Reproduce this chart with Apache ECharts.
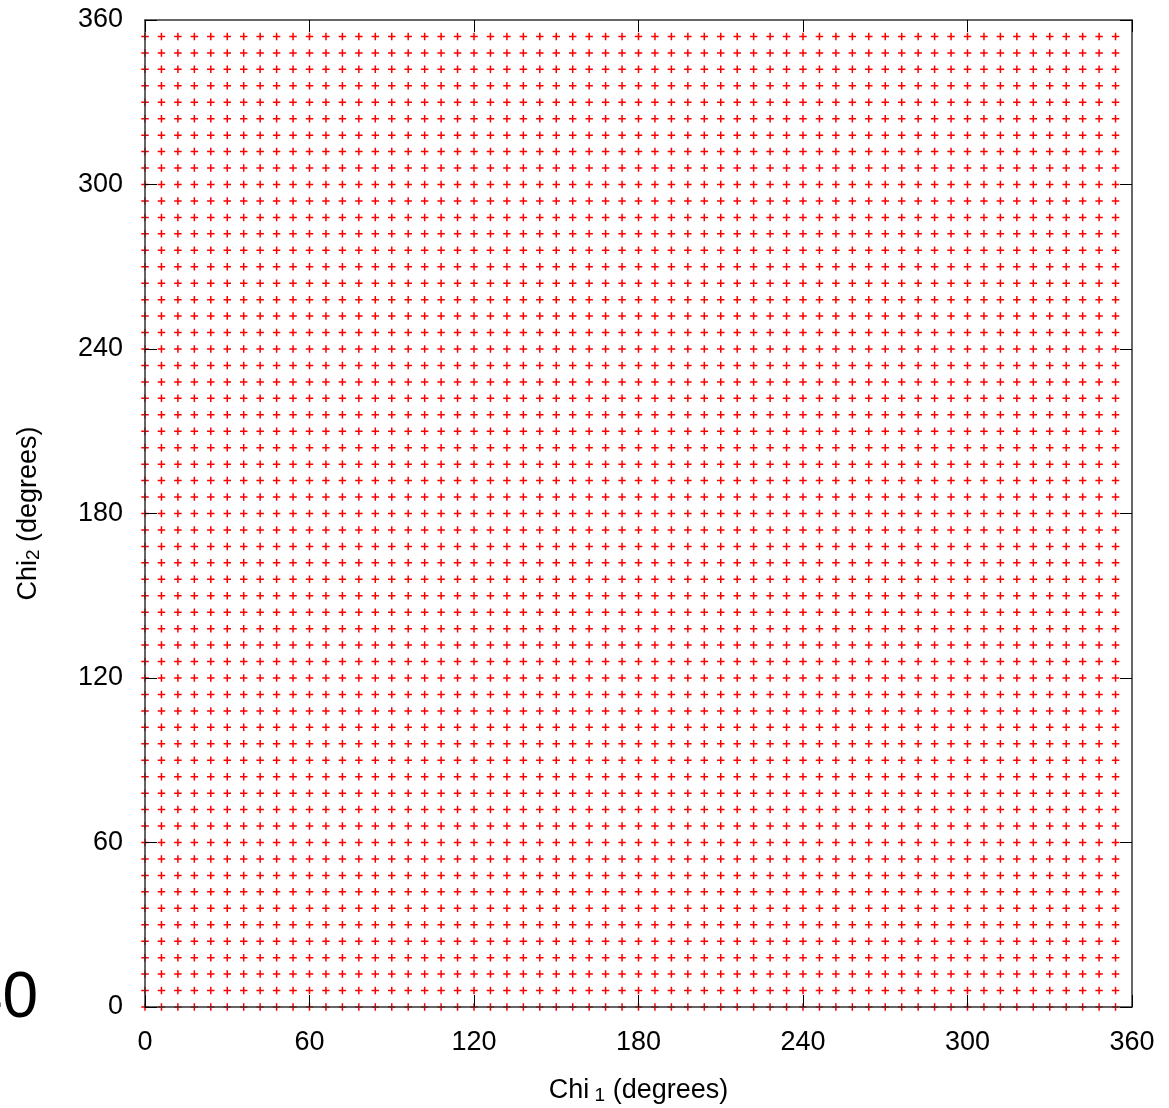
<!DOCTYPE html>
<html>
<head>
<meta charset="utf-8">
<script src="https://cdn.jsdelivr.net/npm/echarts@6/dist/echarts.min.js"></script>
<style>
  html, body { margin: 0; padding: 0; background: #fff; }
  #chart { width: 1169px; height: 1108px; }
</style>
</head>
<body>
<div id="chart"></div>
<script>
// Grid positions of the sampled points (degrees)
const chi1Values = [0, 6, 12, 18, 24, 30, 36, 42, 48, 54, 60, 66, 72, 78, 84, 90, 96, 102, 108, 114,
  120, 126, 132, 138, 144, 150, 156, 162, 168, 174, 180, 186, 192, 198, 204, 210, 216, 222, 228, 234,
  240, 246, 252, 258, 264, 270, 276, 282, 288, 294, 300, 306, 312, 318, 324, 330, 336, 342, 348, 354];
const chi2Values = [0, 6, 12, 18, 24, 30, 36, 42, 48, 54, 60, 66, 72, 78, 84, 90, 96, 102, 108, 114,
  120, 126, 132, 138, 144, 150, 156, 162, 168, 174, 180, 186, 192, 198, 204, 210, 216, 222, 228, 234,
  240, 246, 252, 258, 264, 270, 276, 282, 288, 294, 300, 306, 312, 318, 324, 330, 336, 342, 348, 354];
const tickLabels = [0, 60, 120, 180, 240, 300, 360];
const strayText = '40';

const points = [];
for (const x of chi1Values) {
  for (const y of chi2Values) {
    points.push([x, y]);
  }
}

const FONT = 'Liberation Sans, Arial, Helvetica, sans-serif';
const chart = echarts.init(document.getElementById('chart'), null, { renderer: 'canvas' });

const axisCommon = {
  type: 'value',
  min: tickLabels[0],
  max: tickLabels[tickLabels.length - 1],
  interval: tickLabels[1] - tickLabels[0],
  z: 3,
  axisLine: { show: true, onZero: false, lineStyle: { color: '#333', width: 1.5 } },
  axisTick: { show: true, inside: true, length: 12, lineStyle: { color: '#000', width: 1 } },
  splitLine: { show: false }
};

const titleRich = {
  a: { fontSize: 27, lineHeight: 28, color: '#000', fontFamily: FONT },
  s: { fontSize: 19, lineHeight: 10, verticalAlign: 'bottom', color: '#000', fontFamily: FONT }
};

chart.setOption({
  animation: false,
  backgroundColor: '#fff',
  grid: { left: 145, right: 37, top: 20, bottom: 101, containLabel: false, outerBoundsMode: 'none' },
  graphic: [{
    type: 'text',
    x: 38,
    y: 999,
    style: {
      text: strayText,
      fontSize: 64,
      fontFamily: FONT,
      fill: '#000',
      textAlign: 'right',
      textVerticalAlign: 'middle'
    }
  }],
  xAxis: [
    Object.assign({}, axisCommon, {
      position: 'bottom',
      axisLabel: { show: true, margin: 22, fontSize: 27, color: '#000', fontFamily: FONT },
      name: '{a|Chi}{s| 1}{a| (degrees)}',
      nameLocation: 'middle',
      nameGap: 70,
      nameTextStyle: { fontFamily: FONT, rich: titleRich }
    }),
    Object.assign({}, axisCommon, {
      position: 'top',
      axisLabel: { show: false }
    })
  ],
  yAxis: [
    Object.assign({}, axisCommon, {
      position: 'left',
      axisLabel: { show: true, margin: 22, fontSize: 27, color: '#000', fontFamily: FONT },
      name: '{a|Chi}{s|2}{a| (degrees)}',
      nameLocation: 'middle',
      nameGap: 102,
      nameTextStyle: { fontFamily: FONT, rich: titleRich }
    }),
    Object.assign({}, axisCommon, {
      position: 'right',
      axisLabel: { show: false }
    })
  ],
  series: [{
    type: 'scatter',
    xAxisIndex: 0,
    yAxisIndex: 0,
    data: points,
    symbol: 'path://M4,0h2v4h4v2h-4v4h-2v-4h-4v-2h4z',
    symbolSize: 7.5,
    clip: false,
    itemStyle: { color: '#ff0000', opacity: 1 },
    emphasis: { disabled: true },
    z: 2
  }]
});
</script>
</body>
</html>
